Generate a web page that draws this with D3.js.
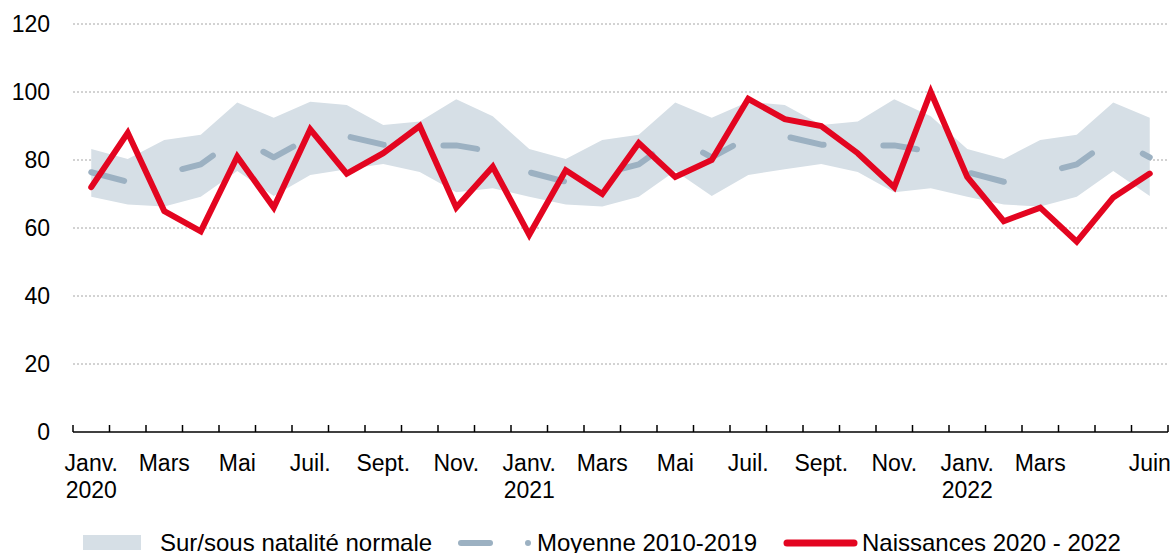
<!DOCTYPE html>
<html>
<head>
<meta charset="utf-8">
<script src="https://cdn.jsdelivr.net/npm/d3@7"></script>
<style>
  html, body { margin: 0; padding: 0; background: #fff; }
  svg { display: block; font-family: "Liberation Sans", Arial, Helvetica, sans-serif; }
</style>
</head>
<body>
<svg id="chart" width="1175" height="553"></svg>
<script>
// ---- Data ----
const months = ["Janv.","Févr.","Mars","Avr.","Mai","Juin","Juil.","Août","Sept.","Oct.","Nov.","Déc."];
const years = [2020, 2021, 2022];
const nMonths = 30; // Jan 2020 .. Jun 2022

// 2010-2019 monthly references (repeat each year)
const bandUpper = [83.2, 80.3, 85.9, 87.4, 96.9, 92.4, 97.1, 96.2, 90.3, 91.3, 97.9, 92.9];
const bandLower = [69.2, 66.9, 66.3, 69.2, 76.8, 69.4, 75.6, 77.3, 78.8, 76.5, 70.5, 71.7];
const meanRef   = [76.4, 73.6, 76.0, 78.7, 86.5, 80.8, 86.6, 87.0, 84.5, 84.3, 84.3, 82.5];

// Births 2020-2022
const births = [72, 88, 65, 59, 81, 66, 89, 76, 82, 90, 66, 78,
                58, 77, 70, 85, 75, 80, 98, 92, 90, 82, 72, 100,
                75, 62, 66, 56, 69, 76];

// x tick labels (index -> lines)
const xLabels = [
  [0, ["Janv.", "2020"]], [2, ["Mars"]], [4, ["Mai"]], [6, ["Juil."]], [8, ["Sept."]], [10, ["Nov."]],
  [12, ["Janv.", "2021"]], [14, ["Mars"]], [16, ["Mai"]], [18, ["Juil."]], [20, ["Sept."]], [22, ["Nov."]],
  [24, ["Janv.", "2022"]], [26, ["Mars"]], [29, ["Juin"]]
];
const yTicks = [0, 20, 40, 60, 80, 100, 120];

const legendLabels = ["Sur/sous natalité normale", "Moyenne 2010-2019", "Naissances 2020 - 2022"];

// ---- Colors ----
const cBand = "#d6dfe6", cMean = "#9cb1c2", cRed = "#e30520";

const svg = d3.select("#chart");
const idx = d3.range(nMonths);
const x = d3.scaleBand().domain(idx).range([73, 1168]).paddingInner(0).paddingOuter(0);
const xc = i => x(i) + x.bandwidth() / 2;
const y = d3.scaleLinear().domain([0, 120]).range([432, 24]);

// gridlines
svg.append("g").selectAll("line").data(yTicks.filter(d => d > 0)).join("line")
  .attr("x1", 73).attr("x2", 1168)
  .attr("y1", d => y(d)).attr("y2", d => y(d))
  .attr("stroke", "#a6a6a6").attr("stroke-width", 1).attr("stroke-dasharray", "2,2");

// band
const bandData = idx.map(i => ({i, lo: bandLower[i % 12], hi: bandUpper[i % 12]}));
svg.append("path").datum(bandData)
  .attr("fill", cBand)
  .attr("d", d3.area().x(d => xc(d.i)).y0(d => y(d.lo)).y1(d => y(d.hi)));

// mean line (dashed)
const meanData = idx.map(i => ({i, v: meanRef[i % 12]}));
const meanPath = svg.append("path").datum(meanData)
  .attr("fill", "none").attr("stroke", cMean).attr("stroke-width", 6)
  .attr("stroke-linecap", "round").attr("stroke-linejoin", "round")
  .attr("d", d3.line().x(d => xc(d.i)).y(d => y(d.v)));
// dash period: 12 dash cycles between first point and ~1143 px along the line
(function () {
  const node = meanPath.node();
  const total = node.getTotalLength();
  const targetX = x(29) + x.bandwidth() / 2 - 7;
  let lo = 0, hi = total;
  for (let k = 0; k < 40; k++) {
    const mid = (lo + hi) / 2;
    if (node.getPointAtLength(mid).x < targetX) lo = mid; else hi = mid;
  }
  const period = lo / 12;
  const dash = 34;
  meanPath.attr("stroke-dasharray", `${dash} ${period - dash}`);
})();

// births line
svg.append("path").datum(births)
  .attr("fill", "none").attr("stroke", cRed).attr("stroke-width", 6)
  .attr("stroke-linecap", "round").attr("stroke-linejoin", "miter")
  .attr("d", d3.line().x((d, i) => xc(i)).y(d => y(d)));

// y axis labels
const yAxis = d3.axisLeft(y).tickValues(yTicks).tickSize(0).tickPadding(0);
const gy = svg.append("g").attr("transform", "translate(50,0)").call(yAxis);
gy.select(".domain").remove();
gy.selectAll("text").attr("font-size", "23px").attr("fill", "#000")
  .attr("font-family", "'Liberation Sans', Arial, sans-serif");

// x axis line and ticks (at band boundaries)
const gx = svg.append("g");
gx.append("line").attr("x1", 73).attr("x2", 1168).attr("y1", 432).attr("y2", 432)
  .attr("stroke", "#000").attr("stroke-width", 1.5);
gx.selectAll("line.tick").data(d3.range(nMonths + 1)).join("line").attr("class", "tick")
  .attr("x1", i => i < nMonths ? x(i) : x.range()[1])
  .attr("x2", i => i < nMonths ? x(i) : x.range()[1])
  .attr("y1", 432).attr("y2", 425)
  .attr("stroke", "#000").attr("stroke-width", 1.5);

const lab = gx.selectAll("text.xl").data(xLabels).join("text").attr("class", "xl")
  .attr("text-anchor", "middle").attr("font-size", "23px").attr("fill", "#000")
  .attr("transform", d => `translate(${xc(d[0])},471)`);
lab.selectAll("tspan").data(d => d[1]).join("tspan")
  .attr("x", 0).attr("dy", (d, k) => k === 0 ? 0 : 27).text(d => d);

// legend
const lg = svg.append("g").attr("font-size", "24px").attr("fill", "#000");
lg.append("rect").attr("x", 83).attr("y", 535).attr("width", 58).attr("height", 15).attr("fill", cBand);
lg.append("text").attr("x", 160).attr("y", 551).text(legendLabels[0]);
lg.append("line").attr("x1", 461).attr("x2", 490).attr("y1", 543).attr("y2", 543)
  .attr("stroke", cMean).attr("stroke-width", 6).attr("stroke-linecap", "round");
lg.append("circle").attr("cx", 528).attr("cy", 543).attr("r", 3).attr("fill", cMean);
lg.append("text").attr("x", 537).attr("y", 551).text(legendLabels[1]);
lg.append("line").attr("x1", 787).attr("x2", 854).attr("y1", 543).attr("y2", 543)
  .attr("stroke", cRed).attr("stroke-width", 7).attr("stroke-linecap", "round");
lg.append("text").attr("x", 862).attr("y", 551).text(legendLabels[2]);
</script>
</body>
</html>
